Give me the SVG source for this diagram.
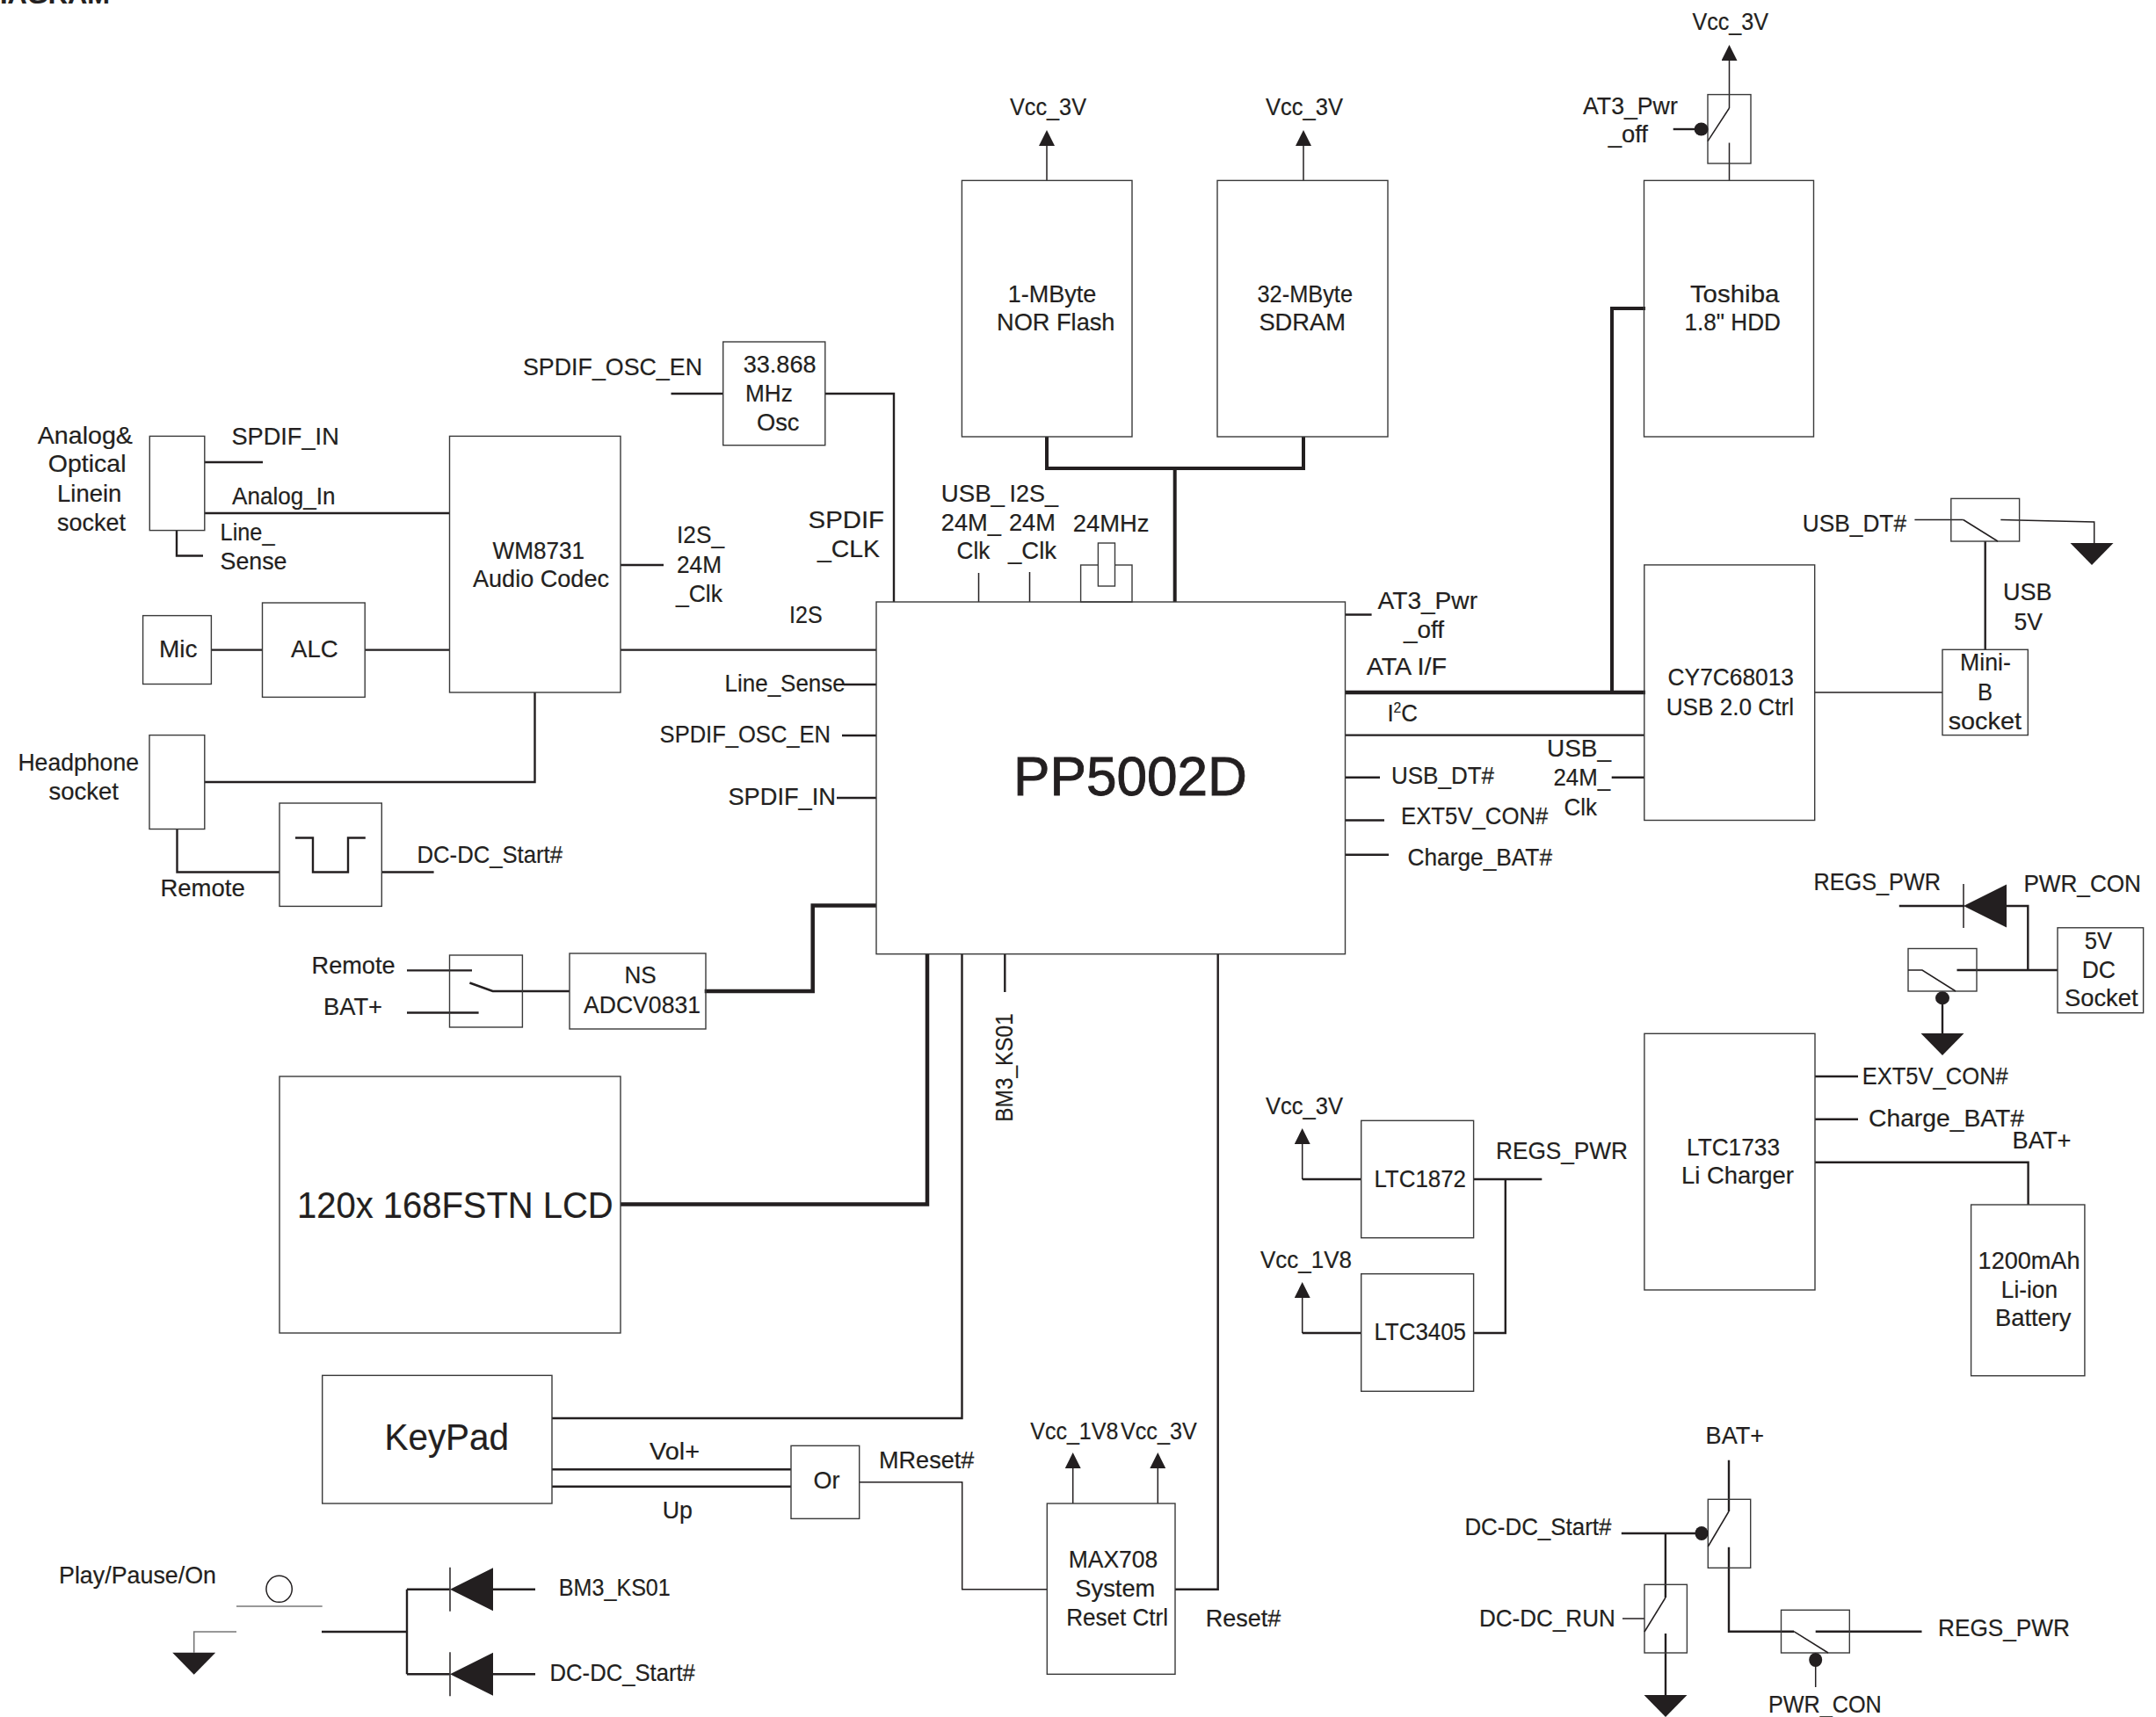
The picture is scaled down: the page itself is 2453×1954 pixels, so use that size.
<svg xmlns="http://www.w3.org/2000/svg" width="2453" height="1954" viewBox="0 0 2453 1954">
<style>
text{font-family:"Liberation Sans",Arial,sans-serif;font-size:28px;fill:#231f20;stroke:#231f20;stroke-width:.2}
.box{fill:none;stroke:#3a3a3a;stroke-width:1.4}
.w{fill:#fff;stroke:#3a3a3a;stroke-width:1.4}
.l1{fill:none;stroke:#231f20;stroke-width:1.5}
.l2{fill:none;stroke:#231f20;stroke-width:2.4}
.l3{fill:none;stroke:#231f20;stroke-width:4}
.l4{fill:none;stroke:#231f20;stroke-width:4.5}
.g{fill:none;stroke:#777;stroke-width:1.6}
.b{fill:#231f20}
</style>
<defs>
<marker id="arrow" markerUnits="userSpaceOnUse" markerWidth="18" markerHeight="18" refX="1" refY="9" orient="auto"><path d="M0 0L18 9L0 18Z" fill="#231f20"/></marker>
<polygon id="gnd" points="-24.5,0 24.5,0 0,25" fill="#231f20"/>
<g id="diode"><polygon points="0,0 49,-24.5 49,24.5" fill="#231f20"/><path d="M0 -25V25" stroke="#231f20" stroke-width="1.5" fill="none"/></g>
</defs>
<rect width="2453" height="1954" fill="#fff"/>
<text x="0" y="4" textLength="125" lengthAdjust="spacingAndGlyphs" font-weight="bold" style="font-size:30px">IAGRAM</text>

<g id="connectors">
<path class="l2" d="M233 526H299M233 584H511.5M201 604V632.5H231"/>
<path class="l2" d="M763.5 448H823M939 448H1017V685M706 643H755"/>
<path class="l2" d="M240.4 739.6H298.5M415.2 739.6H511.5M706 739.6H997M960 779H997M958 837H997M952 908H997"/>
<path class="l2" d="M608.5 788V890H233M201.5 943.5V992.5H318M434.3 992.5H493.6"/>
<path class="l4" d="M997 1030.5H924.7V1128H801.7"/>
<path class="l4" d="M706 1370.5H1055V1086"/>
<path class="l2" d="M628 1614H1094.5V1086"/>
<path class="l2" d="M628 1672.3H900M628 1691.7H900"/>
<path class="l1" d="M977.7 1686.7H1094.7V1808.7H1191.3"/>
<path class="l2" d="M1337 1808.7H1385.7V1086M1143.3 1086V1129"/>
<path class="l3" d="M1191 497V533H1483V497M1336.7 533V685"/>
<path class="l1" d="M1113.5 652V685M1171.5 651V685"/>
<path class="l1" d="M1191 205V165" marker-end="url(#arrow)"/>
<path class="l1" d="M1483 205V165" marker-end="url(#arrow)"/>
<path class="l1" d="M1967.5 123V68" marker-end="url(#arrow)"/>
<path class="l1" d="M1967.5 205V162.5"/>
<path class="l2" d="M1903.7 147H1930"/>
<path class="l3" d="M1872 351H1834V788"/>
<path class="l4" d="M1530 788H1872"/>
<path class="l2" d="M1530 836.6H1871M1530 699.5H1560.6M1530 884.8H1570M1530 933.5H1575M1530 972.8H1580M1833.7 884.8H1871"/>
<path class="l1" d="M2065 788H2210"/>
<path class="l1" d="M2178.4 591.5H2233.7M2276.3 591.5L2382.7 594V618"/>
<path class="l2" d="M2258.7 616V739.3"/>
<path class="l2" d="M2160.8 1031H2235M2283 1031H2307.3V1104M2226.5 1104H2341"/>
<path class="l2" d="M2210 1143V1176"/>
<path class="l2" d="M2065 1225H2114M2065 1273.7H2114M2065 1322.7H2307.6V1371"/>
<path class="l2" d="M1676.6 1342H1754.3M1712.8 1342V1517H1676.6"/>
<path class="l2" d="M1548.7 1342H1481.7"/>
<path class="l1" d="M1481.7 1342V1301" marker-end="url(#arrow)"/>
<path class="l2" d="M1548.7 1517H1481.7"/>
<path class="l1" d="M1481.7 1517V1476" marker-end="url(#arrow)"/>
<path class="l1" d="M1220.7 1711V1670" marker-end="url(#arrow)"/>
<path class="l1" d="M1317.3 1711V1670" marker-end="url(#arrow)"/>
<path class="g" d="M269 1828H366.7"/>
<path class="g" d="M269 1857H220.7V1880.7"/>
<path class="l2" d="M366 1857H463M463 1808.7V1905.3M463 1808.7H511.5M463 1905.3H511.5M561 1808.7H609M561 1905.3H609"/>
<path class="l2" d="M463 1104.4H537M463 1152.5H544.6M534.4 1118.5L560.6 1128H648"/>
<path class="l2" d="M1967 1661.7V1720"/>
<path class="l2" d="M1967 1760.7V1856.7H2041M2065.7 1856.7H2186.5"/>
<path class="l1" d="M2065.7 1895V1920"/>
<path class="l2" d="M1844.8 1745H1929M1894.9 1745V1818"/>
<path class="l1" d="M1846 1842H1871"/>
<path class="l2" d="M1895 1859V1929"/>
</g>

<g id="pp5002d"><rect class="box" x="997" y="685" width="533.5" height="400.7"/><text x="1153" y="905" textLength="266" lengthAdjust="spacingAndGlyphs" style="font-size:63px;stroke-width:.9">PP5002D</text></g>
<g id="crystal"><rect class="box" x="1229.6" y="643" width="58.4" height="42"/><rect class="w" x="1249.4" y="618" width="19.1" height="49"/></g>
<g id="wm8731"><rect class="box" x="511.5" y="496.4" width="194.5" height="291.6"/><text x="560.6" y="635.7" textLength="104.4" lengthAdjust="spacingAndGlyphs">WM8731</text><text x="538" y="668.3" textLength="155" lengthAdjust="spacingAndGlyphs">Audio Codec</text></g>
<g id="osc"><rect class="box" x="822.7" y="389" width="116.1" height="117.7"/><text x="845.7" y="424" textLength="82.9" lengthAdjust="spacingAndGlyphs">33.868</text><text x="848" y="457" textLength="53.8" lengthAdjust="spacingAndGlyphs">MHz</text><text x="861" y="490" textLength="48.4" lengthAdjust="spacingAndGlyphs">Osc</text></g>
<g id="line-socket"><rect class="box" x="170.3" y="496.4" width="62.5" height="107.2"/><text x="42.7" y="504.5" textLength="108.3" lengthAdjust="spacingAndGlyphs">Analog&amp;</text><text x="54.8" y="537" textLength="88.7" lengthAdjust="spacingAndGlyphs">Optical</text><text x="65" y="571.4" textLength="73.4" lengthAdjust="spacingAndGlyphs">Linein</text><text x="65" y="603.6" textLength="77.9" lengthAdjust="spacingAndGlyphs">socket</text></g>
<g id="nor"><rect class="box" x="1094.4" y="205.4" width="193.6" height="291.6"/><text x="1146.7" y="344" textLength="100.7" lengthAdjust="spacingAndGlyphs">1-MByte</text><text x="1134" y="376" textLength="134.5" lengthAdjust="spacingAndGlyphs">NOR Flash</text></g>
<g id="sdram"><rect class="box" x="1385" y="205.4" width="194" height="291.6"/><text x="1430.5" y="344" textLength="108.5" lengthAdjust="spacingAndGlyphs">32-MByte</text><text x="1432.4" y="376" textLength="98.6" lengthAdjust="spacingAndGlyphs">SDRAM</text></g>
<g id="hdd"><rect class="box" x="1870.5" y="205.4" width="193" height="291.6"/><text x="1922.9" y="344" textLength="101.5" lengthAdjust="spacingAndGlyphs">Toshiba</text><text x="1916.5" y="376" textLength="109.5" lengthAdjust="spacingAndGlyphs">1.8" HDD</text></g>
<g id="hdd-switch"><rect class="box" x="1943" y="107.6" width="49" height="78.4"/><path class="l1" d="M1967.5 123L1943 160.7"/><ellipse class="b" cx="1935.6" cy="147" rx="8" ry="7.5"/></g>
<g id="cy7c68013"><rect class="box" x="1870.8" y="642.9" width="193.9" height="290.6"/><text x="1897.6" y="780" textLength="143.4" lengthAdjust="spacingAndGlyphs">CY7C68013</text><text x="1895.7" y="813.8" textLength="145.3" lengthAdjust="spacingAndGlyphs">USB 2.0 Ctrl</text></g>
<g id="usb-switch"><rect class="box" x="2219.8" y="567.4" width="77.8" height="48.6"/><path class="l1" d="M2233.7 591.5L2273 616"/><use href="#gnd" x="2380" y="618"/></g>
<g id="mini-b"><rect class="box" x="2210" y="739.3" width="97.3" height="97.3"/><text x="2230" y="763.4" textLength="57.8" lengthAdjust="spacingAndGlyphs">Mini-</text><text x="2250" y="796.9" textLength="17" lengthAdjust="spacingAndGlyphs">B</text><text x="2216.7" y="829.5" textLength="83.3" lengthAdjust="spacingAndGlyphs">socket</text></g>
<g id="regs-diode"><use href="#diode" x="2234" y="1031"/></g>
<g id="pwr-switch"><rect class="box" x="2171" y="1079.5" width="78" height="48.5"/><path class="l1" d="M2171 1104H2187L2225 1128"/><ellipse class="b" cx="2210" cy="1135.7" rx="8" ry="7.5"/><use href="#gnd" x="2210" y="1176"/></g>
<g id="dc-socket"><rect class="box" x="2341" y="1055.8" width="97.6" height="96.9"/><text x="2371.7" y="1080" textLength="31.3" lengthAdjust="spacingAndGlyphs">5V</text><text x="2368.7" y="1113" textLength="38.3" lengthAdjust="spacingAndGlyphs">DC</text><text x="2349" y="1145" textLength="83.5" lengthAdjust="spacingAndGlyphs">Socket</text></g>
<g id="ltc1733"><rect class="box" x="1870.9" y="1176.3" width="194.1" height="291.7"/><text x="1919" y="1314.7" textLength="106" lengthAdjust="spacingAndGlyphs">LTC1733</text><text x="1913" y="1346.7" textLength="128" lengthAdjust="spacingAndGlyphs">Li Charger</text></g>
<g id="battery"><rect class="box" x="2242.6" y="1371" width="129.3" height="194.7"/><text x="2250.6" y="1443.7" textLength="115.9" lengthAdjust="spacingAndGlyphs">1200mAh</text><text x="2276.8" y="1476.7" textLength="64.2" lengthAdjust="spacingAndGlyphs">Li-ion</text><text x="2270" y="1509" textLength="86.5" lengthAdjust="spacingAndGlyphs">Battery</text></g>
<g id="ltc1872"><rect class="box" x="1548.7" y="1275.3" width="127.9" height="133.4"/><text x="1563.4" y="1350.7" textLength="104.6" lengthAdjust="spacingAndGlyphs">LTC1872</text></g>
<g id="ltc3405"><rect class="box" x="1548.7" y="1449.7" width="127.9" height="133.6"/><text x="1563.4" y="1525.3" textLength="104.6" lengthAdjust="spacingAndGlyphs">LTC3405</text></g>
<g id="mic"><rect class="box" x="162.6" y="700.6" width="77.8" height="77.9"/><text x="181" y="747.8" textLength="43.5" lengthAdjust="spacingAndGlyphs">Mic</text></g>
<g id="alc"><rect class="box" x="298.5" y="686" width="116.7" height="107.4"/><text x="331" y="747.8" textLength="53.6" lengthAdjust="spacingAndGlyphs">ALC</text></g>
<g id="headphone"><rect class="box" x="170" y="836.6" width="62.8" height="106.9"/><text x="20.4" y="877" textLength="137.6" lengthAdjust="spacingAndGlyphs">Headphone</text><text x="55.5" y="910" textLength="79.5" lengthAdjust="spacingAndGlyphs">socket</text></g>
<g id="pulse"><rect class="box" x="318" y="914" width="116.3" height="117.4"/><path class="l2" d="M336 953.5H356V992.5H396V953.5H415.8"/></g>
<g id="remote-switch"><rect class="box" x="511.5" y="1087" width="82.9" height="82"/></g>
<g id="adc"><rect class="box" x="648" y="1085" width="155" height="86"/><text x="710.5" y="1119" textLength="36.3" lengthAdjust="spacingAndGlyphs">NS</text><text x="664" y="1152.5" textLength="133" lengthAdjust="spacingAndGlyphs">ADCV0831</text></g>
<g id="lcd"><rect class="box" x="318" y="1225" width="388" height="292"/><text x="338" y="1386" textLength="359.7" lengthAdjust="spacingAndGlyphs" style="font-size:42px">120x 168FSTN LCD</text></g>
<g id="keypad"><rect class="box" x="366.7" y="1565.3" width="261.3" height="145.7"/><text x="437.5" y="1650" textLength="141.5" lengthAdjust="spacingAndGlyphs" style="font-size:42px">KeyPad</text></g>
<g id="or"><rect class="box" x="900" y="1645.3" width="77.7" height="83"/><text x="925.4" y="1694" textLength="30" lengthAdjust="spacingAndGlyphs">Or</text></g>
<g id="max708"><rect class="box" x="1191.3" y="1711" width="145.7" height="194.3"/><text x="1215.7" y="1784" textLength="101.6" lengthAdjust="spacingAndGlyphs">MAX708</text><text x="1223.3" y="1816.7" textLength="91" lengthAdjust="spacingAndGlyphs">System</text><text x="1213.3" y="1850" textLength="115.7" lengthAdjust="spacingAndGlyphs">Reset Ctrl</text></g>
<g id="play-button"><ellipse class="l1" cx="317.6" cy="1808.3" rx="14.7" ry="15"/><use href="#gnd" x="220.7" y="1880.7"/><text x="67" y="1801.7" textLength="179" lengthAdjust="spacingAndGlyphs">Play/Pause/On</text></g>
<g id="diode-bm3"><use href="#diode" x="512" y="1808.7"/><text x="635.8" y="1816" textLength="127" lengthAdjust="spacingAndGlyphs">BM3_KS01</text></g>
<g id="diode-dcdc"><use href="#diode" x="512" y="1905.3"/><text x="625.6" y="1913" textLength="165.2" lengthAdjust="spacingAndGlyphs">DC-DC_Start#</text></g>
<g id="bat-switch"><rect class="box" x="1943.3" y="1706.3" width="48.4" height="78"/><path class="l1" d="M1967 1720L1943.3 1760"/><ellipse class="b" cx="1936" cy="1745" rx="7.5" ry="8"/></g>
<g id="run-switch"><rect class="box" x="1871" y="1803.3" width="48.4" height="77.7"/><path class="l1" d="M1895 1818L1871 1857"/><use href="#gnd" x="1895" y="1929"/></g>
<g id="regs-switch"><rect class="box" x="2026.5" y="1832.3" width="77.8" height="48.7"/><path class="l1" d="M2041 1856.7L2080 1881"/><ellipse class="b" cx="2065.7" cy="1889" rx="7.5" ry="8"/></g>

<g id="labels">
<text x="263.4" y="505.8" textLength="122.4" lengthAdjust="spacingAndGlyphs">SPDIF_IN</text>
<text x="264" y="573.7" textLength="117.4" lengthAdjust="spacingAndGlyphs">Analog_In</text>
<text x="250.6" y="615" textLength="61.9" lengthAdjust="spacingAndGlyphs">Line_</text>
<text x="250.6" y="648" textLength="75.9" lengthAdjust="spacingAndGlyphs">Sense</text>
<text x="770" y="618" textLength="54" lengthAdjust="spacingAndGlyphs">I2S_</text>
<text x="770" y="651.8" textLength="51" lengthAdjust="spacingAndGlyphs">24M</text>
<text x="769" y="685" textLength="53" lengthAdjust="spacingAndGlyphs">_Clk</text>
<text x="595" y="427" textLength="204" lengthAdjust="spacingAndGlyphs">SPDIF_OSC_EN</text>
<text x="919.6" y="601" textLength="86.4" lengthAdjust="spacingAndGlyphs">SPDIF</text>
<text x="930" y="634" textLength="71" lengthAdjust="spacingAndGlyphs">_CLK</text>
<text x="898" y="708.9" textLength="37.6" lengthAdjust="spacingAndGlyphs">I2S</text>
<text x="1149" y="130.8" textLength="87" lengthAdjust="spacingAndGlyphs">Vcc_3V</text>
<text x="1440" y="130.8" textLength="88" lengthAdjust="spacingAndGlyphs">Vcc_3V</text>
<text x="1925.4" y="34" textLength="86.6" lengthAdjust="spacingAndGlyphs">Vcc_3V</text>
<text x="1801" y="130.4" textLength="107.8" lengthAdjust="spacingAndGlyphs">AT3_Pwr</text>
<text x="1829.7" y="162" textLength="45.3" lengthAdjust="spacingAndGlyphs">_off</text>
<text x="1070.8" y="570.5" textLength="72.2" lengthAdjust="spacingAndGlyphs">USB_</text>
<text x="1148.6" y="570.5" textLength="55.4" lengthAdjust="spacingAndGlyphs">I2S_</text>
<text x="1070.8" y="603.6" textLength="68.2" lengthAdjust="spacingAndGlyphs">24M_</text>
<text x="1148" y="603.6" textLength="52.9" lengthAdjust="spacingAndGlyphs">24M</text>
<text x="1088.6" y="636" textLength="37.7" lengthAdjust="spacingAndGlyphs">Clk</text>
<text x="1147" y="636" textLength="55" lengthAdjust="spacingAndGlyphs">_Clk</text>
<text x="1220.7" y="605.4" textLength="86.7" lengthAdjust="spacingAndGlyphs">24MHz</text>
<text x="1567.6" y="692.9" textLength="113.4" lengthAdjust="spacingAndGlyphs">AT3_Pwr</text>
<text x="1597" y="726" textLength="46" lengthAdjust="spacingAndGlyphs">_off</text>
<text x="1554.7" y="767.9" textLength="91.3" lengthAdjust="spacingAndGlyphs">ATA I/F</text>
<text x="1578.4" y="821" textLength="34.6" lengthAdjust="spacingAndGlyphs">I<tspan dy="-10" style="font-size:17px">2</tspan><tspan dy="10">C</tspan></text>
<text x="1583" y="892" textLength="117" lengthAdjust="spacingAndGlyphs">USB_DT#</text>
<text x="1594" y="937.5" textLength="167.4" lengthAdjust="spacingAndGlyphs">EXT5V_CON#</text>
<text x="1601.5" y="984.8" textLength="164.5" lengthAdjust="spacingAndGlyphs">Charge_BAT#</text>
<text x="1760" y="860.7" textLength="73" lengthAdjust="spacingAndGlyphs">USB_</text>
<text x="1767.5" y="894" textLength="64.5" lengthAdjust="spacingAndGlyphs">24M_</text>
<text x="1779.6" y="927.7" textLength="37.4" lengthAdjust="spacingAndGlyphs">Clk</text>
<text x="2050.8" y="604.5" textLength="118.2" lengthAdjust="spacingAndGlyphs">USB_DT#</text>
<text x="2279" y="683" textLength="55.6" lengthAdjust="spacingAndGlyphs">USB</text>
<text x="2291.5" y="716.5" textLength="32.5" lengthAdjust="spacingAndGlyphs">5V</text>
<text x="2063.5" y="1013.4" textLength="144.5" lengthAdjust="spacingAndGlyphs">REGS_PWR</text>
<text x="2302.4" y="1015" textLength="133.6" lengthAdjust="spacingAndGlyphs">PWR_CON</text>
<text x="182.4" y="1019.8" textLength="96.3" lengthAdjust="spacingAndGlyphs">Remote</text>
<text x="474.5" y="982" textLength="165.5" lengthAdjust="spacingAndGlyphs">DC-DC_Start#</text>
<text x="824.6" y="786.8" textLength="137.1" lengthAdjust="spacingAndGlyphs">Line_Sense</text>
<text x="750.6" y="844.9" textLength="194.4" lengthAdjust="spacingAndGlyphs">SPDIF_OSC_EN</text>
<text x="828.4" y="915.8" textLength="122.6" lengthAdjust="spacingAndGlyphs">SPDIF_IN</text>
<text x="354.6" y="1108" textLength="95" lengthAdjust="spacingAndGlyphs">Remote</text>
<text x="368" y="1155.4" textLength="67" lengthAdjust="spacingAndGlyphs">BAT+</text>
<text x="739" y="1661.3" textLength="57" lengthAdjust="spacingAndGlyphs">Vol+</text>
<text x="753.8" y="1727.7" textLength="34.2" lengthAdjust="spacingAndGlyphs">Up</text>
<text x="1000" y="1670.7" textLength="108.3" lengthAdjust="spacingAndGlyphs">MReset#</text>
<text x="1172.3" y="1638.3" textLength="100" lengthAdjust="spacingAndGlyphs">Vcc_1V8</text>
<text x="1275" y="1638.3" textLength="86.7" lengthAdjust="spacingAndGlyphs">Vcc_3V</text>
<text x="1371.7" y="1850.7" textLength="85.6" lengthAdjust="spacingAndGlyphs">Reset#</text>
<text transform="translate(1151.7 1276.7) rotate(-90)" x="0" y="0" textLength="123.4" lengthAdjust="spacingAndGlyphs">BM3_KS01</text>
<text x="1940.6" y="1643" textLength="66.4" lengthAdjust="spacingAndGlyphs">BAT+</text>
<text x="1666.4" y="1746.7" textLength="167" lengthAdjust="spacingAndGlyphs">DC-DC_Start#</text>
<text x="1683" y="1850.7" textLength="154.8" lengthAdjust="spacingAndGlyphs">DC-DC_RUN</text>
<text x="2205" y="1862" textLength="150" lengthAdjust="spacingAndGlyphs">REGS_PWR</text>
<text x="2011.9" y="1949" textLength="128.9" lengthAdjust="spacingAndGlyphs">PWR_CON</text>
<text x="1440" y="1268" textLength="88" lengthAdjust="spacingAndGlyphs">Vcc_3V</text>
<text x="1434" y="1442.7" textLength="104" lengthAdjust="spacingAndGlyphs">Vcc_1V8</text>
<text x="1702" y="1318.7" textLength="150" lengthAdjust="spacingAndGlyphs">REGS_PWR</text>
<text x="2118.7" y="1233.7" textLength="166.1" lengthAdjust="spacingAndGlyphs">EXT5V_CON#</text>
<text x="2126" y="1282" textLength="177" lengthAdjust="spacingAndGlyphs">Charge_BAT#</text>
<text x="2289.5" y="1306.7" textLength="67" lengthAdjust="spacingAndGlyphs">BAT+</text>
</g>
</svg>
